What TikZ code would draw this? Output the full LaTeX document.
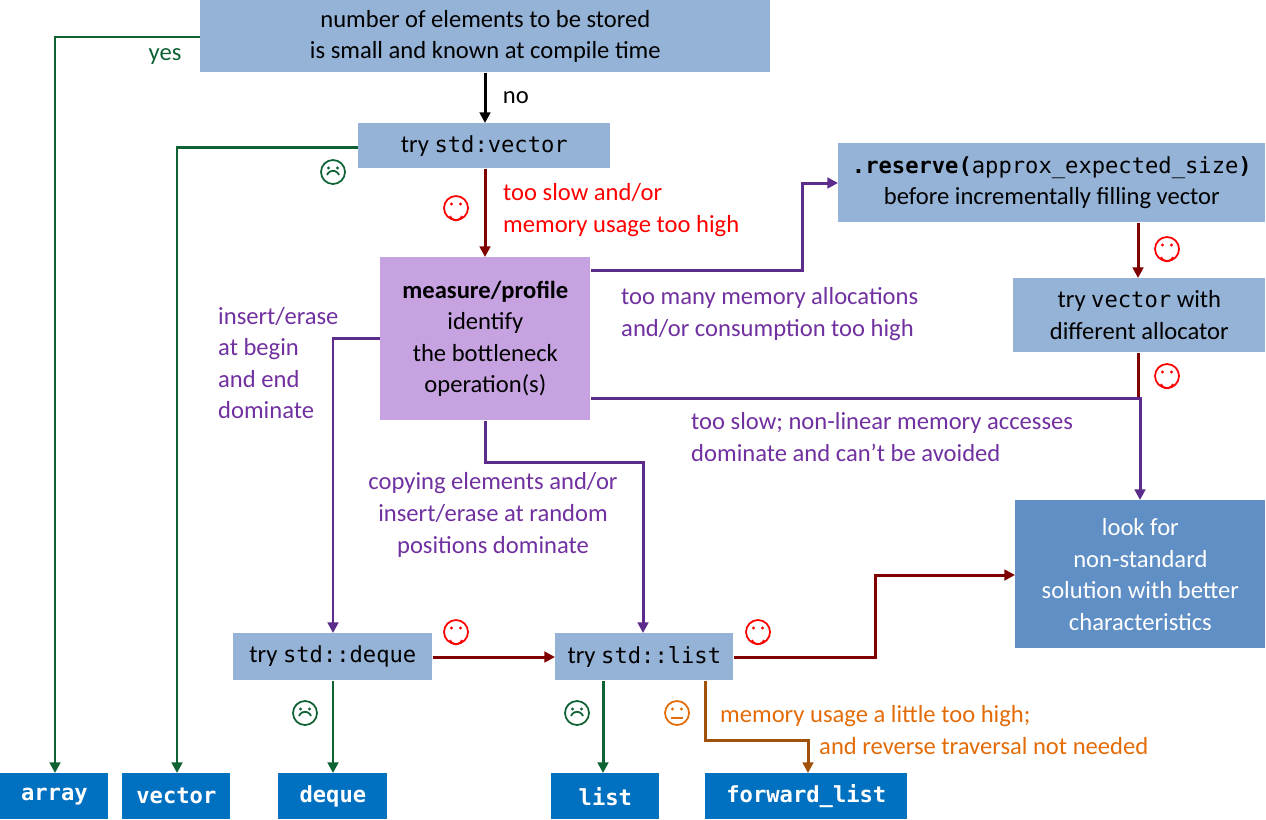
\documentclass[tikz,border=0pt]{standalone}
\usepackage{fontspec}
\setmainfont{Carlito}
\setmonofont{DejaVu Sans Mono}[Scale=0.9]
\usetikzlibrary{arrows.meta}
\definecolor{lb}{HTML}{95B3D7}
\definecolor{pu}{HTML}{C6A2E0}
\definecolor{db}{HTML}{5F8FC4}
\definecolor{bb}{HTML}{0070C0}
\definecolor{gr}{HTML}{0E6233}
\definecolor{rd}{HTML}{800000}
\definecolor{pl}{HTML}{5B2C8B}
\definecolor{tp}{HTML}{7030A0}
\definecolor{og}{HTML}{A0520A}
\definecolor{ot}{HTML}{E36C09}
\begin{document}
\begin{tikzpicture}[x=0.02cm,y=-0.02cm,
  font=\fontsize{14}{18}\selectfont,
  box/.style={fill=lb,draw=none,align=center,inner sep=0pt},
  res/.style={fill=bb,text=white,font=\fontsize{14}{16}\selectfont\ttfamily\bfseries,inner sep=0pt},
  ln/.style={line width=1.7pt,-{Triangle[width=6pt,length=6pt]}},
  face/.pic={\draw[line width=1pt] (0,0) circle (12); \fill (-4.5,-4) circle (1.6) (4.5,-4) circle (1.6);}]
\useasboundingbox (0,0) rectangle (1266,819);
\node[box,minimum width=570*0.02cm,minimum height=72*0.02cm,anchor=north west] (top) at (200,0) {number of elements to be stored\\is small and known at compile time};
\node[box,minimum width=252*0.02cm,minimum height=45*0.02cm,anchor=north west] (tv) at (358,123) {try \texttt{std:vector}};
\node[box,minimum width=427*0.02cm,minimum height=79*0.02cm,anchor=north west] (rs) at (838,143) {\texttt{\textbf{.reserve(}approx\_expected\_size\textbf{)}}\\before incrementally filling vector};
\node[box,minimum width=252*0.02cm,minimum height=74*0.02cm,anchor=north west] (al) at (1013,278) {try \texttt{vector} with\\different allocator};
\node[box,fill=pu,minimum width=210*0.02cm,minimum height=163*0.02cm,anchor=north west] (mp) at (380,257) {\textbf{measure/profile}\\identify\\the bottleneck\\operation(s)};
\node[box,fill=db,text=white,minimum width=250*0.02cm,minimum height=148*0.02cm,anchor=north west] (lf) at (1015,500) {look for\\non-standard\\solution with better\\characteristics};
\node[box,minimum width=199*0.02cm,minimum height=47*0.02cm,anchor=north west] (td) at (233,633) {try \texttt{std::deque}};
\node[box,minimum width=178*0.02cm,minimum height=47*0.02cm,anchor=north west] (tl) at (555,633) {try \texttt{std::list}};
\node[res,minimum width=108*0.02cm,minimum height=46*0.02cm,anchor=north west] (a) at (0,773) {array};
\node[res,minimum width=108*0.02cm,minimum height=46*0.02cm,anchor=north west] (v) at (122,773) {vector};
\node[res,minimum width=109*0.02cm,minimum height=46*0.02cm,anchor=north west] (d) at (278,773) {deque};
\node[res,minimum width=108*0.02cm,minimum height=46*0.02cm,anchor=north west] (l) at (551,773) {list};
\node[res,minimum width=202*0.02cm,minimum height=46*0.02cm,anchor=north west] (fl) at (705,773) {forward\_list};
% connectors
\draw[ln,gr] (top.west|-0,37) -| (a.north-|55,0);
\node[text=gr] at (165,57) {yes};
\draw[ln,black] (top.south-|485,0) -- (tv.north-|485,0) node[midway,right=6pt] {no};
\draw[ln,gr] (tv.west|-0,147) -| (v.north-|177,0);
\draw[ln,rd] (tv.south-|485,0) -- (mp.north-|485,0);
\node[text=red,align=left,anchor=west] at (497,210) {too slow and/or\\memory usage too high};
\draw[ln,pl] (mp.east|-0,270) -- (802,270) |- (rs.west|-0,183);
\node[text=tp,align=left,anchor=west] at (615,314) {too many memory allocations\\and/or consumption too high};
\draw[ln,rd] (rs.south-|1138,0) -- (al.north-|1138,0);
\draw[line width=1.7pt,rd] (al.south-|1138,0) -- (1138,398);
\draw[ln,pl] (mp.east|-0,398) -- (1140,398) -- (lf.north-|1140,0);
\node[text=tp,align=left,anchor=west] at (685,437) {too slow; non-linear memory accesses\\dominate and can't be avoided};
\draw[ln,pl] (mp.west|-0,338) -| (td.north-|333,0);
\node[text=tp,align=left,anchor=west] at (212,363) {insert/erase\\at begin\\and end\\dominate};
\draw[ln,pl] (mp.south-|485,0) -- (485,462) -| (tl.north-|643,0);
\node[text=tp,align=center] at (493,515) {copying elements and/or\\insert/erase at random\\positions dominate};
\draw[ln,rd] (td.east|-0,657) -- (tl.west|-0,657);
\draw[ln,rd] (tl.east|-0,657) -- (875,657) |- (lf.west|-0,575);
\draw[ln,gr] (td.south-|333,0) -- (d.north-|333,0);
\draw[ln,gr] (tl.south-|603,0) -- (l.north-|603,0);
\draw[ln,og] (tl.south-|705,0) -- (705,740) -| (fl.north-|808,0);
\node[text=ot,anchor=west] at (714,716) {memory usage a little too high;};
\node[text=ot,anchor=west] at (813,746) {and reverse traversal not needed};
% faces
\begin{scope}[color=gr]
\foreach \p in {(333,172),(305,713),(577,713)}{
 \pic[gr] at \p {face}; \draw[gr,line width=1pt] \p ++(-6,3) arc[start angle=200,end angle=340,radius=6.4];}
\end{scope}
\foreach \p in {(456,208),(1167,249),(1167,376),(456,632),(758,632)}{
 \pic[red] at \p {face}; \draw[red,line width=1pt] \p ++(-6,8) arc[start angle=160,end angle=20,radius=6.4];}
\pic[ot] at (677,713) {face}; \draw[ot,line width=1pt] (671,718) -- (683,718);
\end{tikzpicture}
\end{document}
